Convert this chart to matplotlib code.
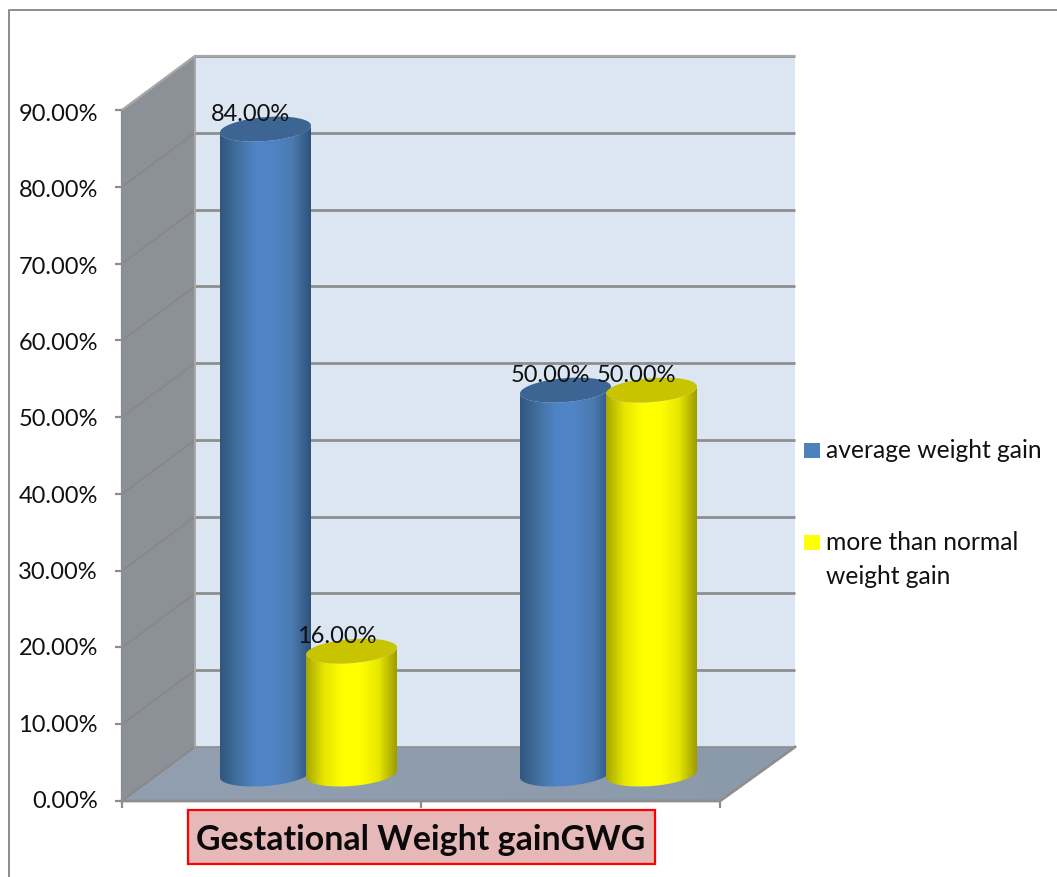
# 3D style cylinder chart of gestational weight gain, built up from patches
import numpy as np
import matplotlib
matplotlib.use('Agg')
import matplotlib.pyplot as plt
from matplotlib.colors import LinearSegmentedColormap
from matplotlib.patches import Polygon, Rectangle

plt.rcParams['font.family'] = ['Lato', 'DejaVu Sans']

# data
series_names = ['average weight gain', 'more than normal', 'weight gain']
average_gain = [84.0, 50.0]
more_than_normal = [16.0, 50.0]
y_ticks = [0, 10, 20, 30, 40, 50, 60, 70, 80, 90]
chart_title = 'Gestational Weight gainGWG'

W, H = 1057, 877
PX_X = 300.0            # pixels per category
PX_Y = 691 / 90.0       # pixels per percent
DX = 73 / PX_X          # depth of the box, in data units
DY = 54 / PX_Y
FRONT_R = 1.5 - 75 / PX_X   # right end of the front edge
GRID = '#8e8e8e'

fig = plt.figure(figsize=(W / 100, H / 100), dpi=100)
ax = fig.add_axes([0, 0, 1, 1])
# category 0 sits 345 px along the back wall, value 0 is on pixel row 747
ax.set_xlim(-345 / PX_X, (W - 345) / PX_X)
ax.set_ylim(-(H - 747) / PX_Y, 747 / PX_Y)
ax.axis('off')


def fx(px):
    return px / W


def fy(px):
    return 1 - px / H


def grad_fill(patch, stops, extent, z, horizontal=True):
    # gradient image cut to the shape of patch
    cmap = LinearSegmentedColormap.from_list('g', stops)
    g = np.linspace(0, 1, 256)
    g = g.reshape(1, -1) if horizontal else g.reshape(-1, 1)
    patch.set_facecolor('none')
    patch.set_edgecolor('none')
    patch.set_zorder(z)
    ax.add_patch(patch)
    im = ax.imshow(g, cmap=cmap, extent=extent, aspect='auto', zorder=z,
                   origin='lower', interpolation='bilinear')
    im.set_clip_path(patch)


# figure frame, only left and top show
fig.add_artist(plt.Line2D([fx(9), fx(9), fx(W)], [fy(H), fy(10), fy(10)],
                          color='#8c8c8c', lw=1.4))

# back wall
ax.add_patch(Rectangle((-0.5, 0), 2, 90, fc='#dce6f2', ec='none', zorder=1))
# side wall
side = [(-0.5, 0), (-0.5, 90), (-0.5 - DX, 90 - DY), (-0.5 - DX, -DY)]
ax.add_patch(Polygon(side, fc='#8b9197', ec='none', zorder=1))
# floor
floor = [(-0.5, 0), (1.5, 0), (FRONT_R, -DY), (-0.5 - DX, -DY)]
grad_fill(Polygon(floor), ['#929fb0', '#8b9aab'],
          (-0.5 - DX, 1.5, -DY, 0), 1)

# grid lines, on the wall and running down the side
for t in y_ticks:
    if t > 0:
        ax.plot([-0.5, 1.5], [t, t], color=GRID, lw=2, zorder=2,
                solid_capstyle='butt')
    ax.plot([-0.5 - DX, -0.5], [t - DY, t], color='#8a8783', lw=1.2, zorder=2)
    ax.plot([-0.5 - DX - 7 / PX_X, -0.5 - DX], [t - DY, t - DY], color=GRID,
            lw=1.6, zorder=2, solid_capstyle='butt')
    ax.text(-0.5 - DX - 24 / PX_X, t * 0.995 - DY - 0.1, '%.2f%%' % t, ha='right',
            va='center', fontsize=17, color='#111111', zorder=6)

# box outline
ax.plot([-0.5, -0.5], [0, 90], color='#a8a8a8', lw=1.4, zorder=2)
ax.plot([-0.5 - DX, -0.5 - DX], [-DY, 90 - DY], color=GRID, lw=1.6, zorder=2)
ax.plot([-0.5 - DX, -0.5, 1.5], [90 - DY, 90, 90], color='#a8a8a8', lw=1.6,
        zorder=2, solid_capstyle='butt')
ax.plot([-0.5 - DX, FRONT_R, 1.5], [-DY, -DY, 0], color=GRID, lw=2, zorder=2)
ax.plot([-0.5, 1.5], [0, 0], color=GRID, lw=1.2, zorder=2, solid_capstyle='butt')
for c in [-0.5, 0.5 - 1 / PX_X, 1.5 - 2 / PX_X]:
    ax.plot([c - DX, c - DX], [-DY, -DY - 7 / PX_Y], color=GRID, lw=1.6,
            zorder=2, solid_capstyle='butt')

# cylinders
A = 45.5 / PX_X
B = 12 / PX_Y
S = 3.5 / PX_Y
OFF = 43 / PX_X
BLUE = ['#305680', '#42719f', '#5084c8', '#4f83c4', '#4a7ab0', '#30517a']
YELLOW = ['#a6a600', '#e6e600', '#ffff00', '#ffff00', '#e8e800', '#9c9c00']


def cylinder(cat, off, val, stops, top_color, z):
    cx = cat - DX / 2 + off
    base = -DY / 2
    top = base + val
    t = np.linspace(0, np.pi, 80)
    ex = cx + A * np.cos(t)
    low = base - B * np.sin(t) + S * np.cos(t)
    high = top - B * np.sin(t) + S * np.cos(t)
    body = np.column_stack([np.r_[ex, ex[::-1]], np.r_[low, high[::-1]]])
    grad_fill(Polygon(body), stops, (cx - A, cx + A, base - B * 2, top + B), z)
    t = np.linspace(0, 2 * np.pi, 160)
    cap = np.column_stack([cx + A * np.cos(t),
                           top - B * np.sin(t) + S * np.cos(t)])
    ax.add_patch(Polygon(cap, fc=top_color, ec='none', zorder=z + 0.1))
    ax.text(cx - 15 / PX_X, top + 15 / PX_Y, '%.2f%%' % val, ha='center',
            va='center', fontsize=17, color='#111111', zorder=6)


for i in range(2):
    cylinder(i, -OFF, average_gain[i], BLUE, '#3d6594', 3)
    cylinder(i, OFF, more_than_normal[i], YELLOW, '#c8c400', 4)

# legend
for row, color in [(450.5, '#4f81bd'), (542, '#ffff00')]:
    fig.add_artist(Rectangle((fx(804), fy(row + 7.5)), 16 / W, 15 / H, fc=color,
                             ec='none', transform=fig.transFigure))
for row, name in zip([450.5, 542, 576], series_names):
    fig.text(fx(826), fy(row), name, ha='left', va='center', fontsize=17.7,
             color='#111111')

# title box
fig.add_artist(Rectangle((fx(188), fy(864)), 467 / W, 54 / H, fc='#e6b8b7',
                         ec='#ff0000', lw=1.6, transform=fig.transFigure))
fig.text(fx(421), fy(840), chart_title, ha='center', va='center', fontsize=24.4,
         fontweight='bold', color='#0a0a0a')

fig.savefig('out.png', dpi=100)
